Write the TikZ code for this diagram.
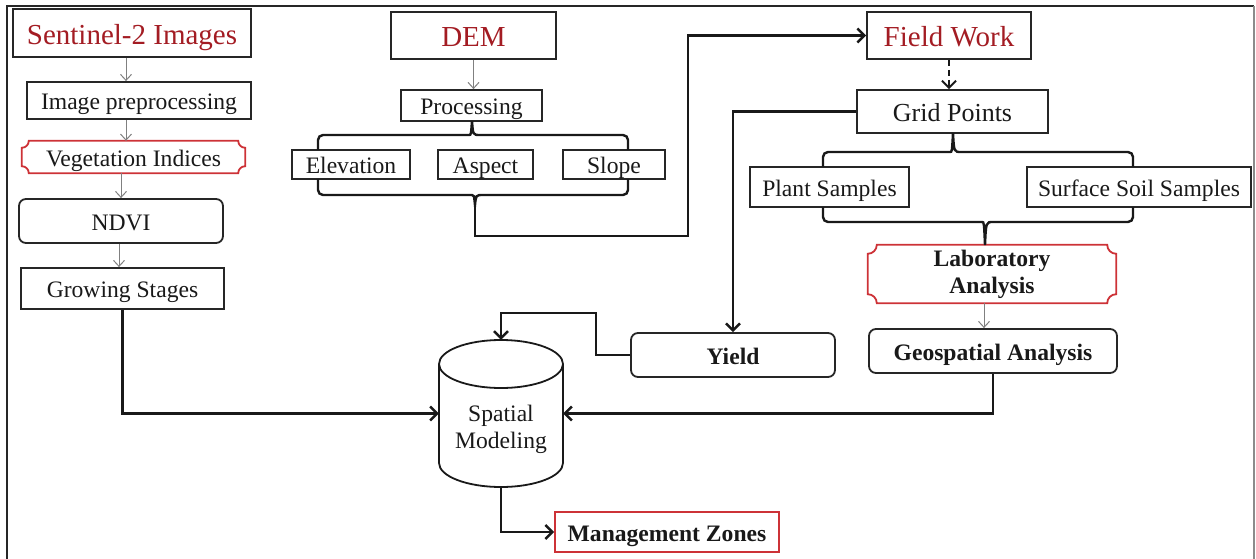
\documentclass[tikz,border=0pt]{standalone}
\usepackage{fontspec}
\setmainfont{Liberation Serif}
\usetikzlibrary{arrows.meta, calc}
\definecolor{titlered}{RGB}{163,28,35}
\definecolor{framered}{RGB}{205,50,55}
\newcommand\fsreg{\fontsize{23.6}{27}\selectfont}
\newcommand\fsbig{\fontsize{29}{32}\selectfont}
\newcommand\fsgrid{\fontsize{26}{29}\selectfont}
% frame with concave corners round a node
\newcommand\notchframe[2]{%
  \draw[notchline] ([xshift=#2]#1.north west) -- ([xshift=-#2]#1.north east)
    arc[start angle=180, end angle=270, radius=#2] -- ([yshift=#2]#1.south east)
    arc[start angle=90, end angle=180, radius=#2] -- ([xshift=#2]#1.south west)
    arc[start angle=0, end angle=90, radius=#2] -- ([yshift=-#2]#1.north west)
    arc[start angle=270, end angle=360, radius=#2] -- cycle;}
% bracket: ends x, tip x, end y, flat y, tip y
\newcommand\bracketline[6]{%
  \draw[bracket] (#1,#4) [rounded corners=5pt] -- (#1,#5) -- ({#3-8},#5) [sharp corners]
    .. controls ({#3-1},#5) .. (#3,#6) .. controls ({#3+1},#5) .. ({#3+8},#5)
    [rounded corners=5pt] -- (#2,#5) -- (#2,#4);}

\tikzset{
  box/.style={draw=black!85, line width=1.8pt, inner sep=2pt, font=\fsreg, text=black!90,
    text height=18.5pt, text depth=0pt},
  titlebox/.style={box, font=\fsbig, text=titlered, text height=23pt},
  roundbox/.style={box, rounded corners=7pt},
  notchbox/.style={inner sep=2pt, font=\fsreg, text=black!90},
  notchline/.style={draw=framered, line width=1.8pt},
  link/.style={line width=2.4pt, draw=black!90, -{Straight Barb[length=7pt,width=14pt]}},
  greylink/.style={line width=1pt, draw=black!50, -{Straight Barb[length=6pt,width=11pt]}},
  bracket/.style={line width=2.4pt, draw=black!90},
}

\begin{document}
\begin{tikzpicture}[x=1pt, y=-1pt]
  \useasboundingbox (0,0) rectangle (1256,559);

  % outer frame
  \draw[line width=2pt, black!85] (7,559) -- (7,6) -- (1254,6);
  \draw[line width=1.2pt, black!45] (1254,6) -- (1254,559);

  % Sentinel-2 column
  \node[titlebox, minimum width=238pt, minimum height=48pt] (s2) at (132,33) {Sentinel-2 Images};
  \node[box, minimum width=224pt, minimum height=37pt] (imgpre) at (139,100.5) {Image preprocessing};
  \node[notchbox, text height=18.5pt, text depth=0pt, minimum width=223pt, minimum height=32pt] (vegidx) at (133.5,157) {Vegetation Indices};
  \notchframe{vegidx}{7pt}
  \node[roundbox, minimum width=204pt, minimum height=44pt] (ndvi) at (121,221) {NDVI};
  \node[box, minimum width=203pt, minimum height=41pt] (grow) at (122.5,288.5) {Growing Stages};

  \draw[greylink] ([xshift=-6pt]s2.south) -- ([xshift=-13pt]imgpre.north);
  \draw[greylink] ([xshift=-13pt]imgpre.south) -- ([xshift=-7.5pt]vegidx.north);
  \draw[greylink] ([xshift=-12.5pt]vegidx.south) -- (ndvi.north);
  \draw[greylink] ([xshift=-2pt]ndvi.south) -- ([xshift=-3.5pt]grow.north);

  % DEM column
  \node[titlebox, minimum width=165pt, minimum height=47pt] (dem) at (473.5,35.5) {DEM};
  \node[box, minimum width=141pt, minimum height=31pt] (proc) at (471.5,105.5) {Processing};
  \node[box, minimum width=118pt, minimum height=29pt] (elev) at (351,164.5) {Elevation};
  \node[box, minimum width=95pt, minimum height=29pt] (aspect) at (485.5,164.5) {Aspect};
  \node[box, minimum width=102pt, minimum height=29pt] (slope) at (614,164.5) {Slope};

  \draw[greylink] (dem.south) -- (dem.south |- proc.north);
  \bracketline{318}{628}{472}{150}{135}{121}
  \bracketline{318}{628}{475}{179}{195}{205}

  % field work column
  \node[titlebox, minimum width=164pt, minimum height=47pt] (field) at (949,35.5) {Field Work};
  \node[box, font=\fsgrid, text height=20pt, minimum width=191pt, minimum height=43pt] (grid) at (952.5,111.5) {Grid Points};
  \node[box, minimum width=159pt, minimum height=40pt] (plant) at (829.5,187) {Plant Samples};
  \node[box, minimum width=224pt, minimum height=40pt] (soil) at (1139,187) {Surface Soil Samples};
  \node[notchbox, font=\fsreg\bfseries, align=center, minimum width=248pt, minimum height=58pt] (lab) at (992,274) {Laboratory\\Analysis};
  \notchframe{lab}{9pt}
  \node[roundbox, font=\fsreg\bfseries, minimum width=248pt, minimum height=44pt] (geo) at (993,351) {Geospatial Analysis};
  \node[roundbox, font=\fsreg\bfseries, minimum width=204pt, minimum height=44pt] (yield) at (733,355) {Yield};

  \draw[link, dash pattern=on 6pt off 4pt, line width=2pt] (field.south) -- (field.south |- grid.north);
  \bracketline{823}{1133}{953}{167}{152}{133}
  \bracketline{823}{1133}{985}{207}{222}{245}
  \draw[greylink] ([xshift=-8pt]lab.south) -- ([xshift=-9pt]geo.north);

  % DEM to field work
  \coordinate (demtip) at (475,205);
  \coordinate (demturn) at (688,236);
  \draw[link] (demtip) |- (demturn) |- (field.west);

  % spatial modeling
  \node[minimum width=124pt, minimum height=147pt] (cyl) at (501,413.5) {};
  \draw[line width=1.8pt, black!90] (501,364) ellipse [x radius=62, y radius=24];
  \draw[line width=1.8pt, black!90] (439,364) -- (439,463)
    arc[start angle=180, end angle=0, x radius=62, y radius=24] -- (563,364);
  \node[font=\fsreg, align=center, text=black!90] (cyltext) at (501,429) {Spatial\\Modeling};
  \node[box, draw=framered, font=\fsreg\bfseries, minimum width=224pt, minimum height=40pt] (mgmt) at (667,532) {Management Zones};

  \draw[link] (grid.west) -| (yield.north);
  \draw[link] (yield.west) -- ++(-34,0) |- ([yshift=27pt]cyl.north) -- (cyl.north);
  \draw[link] (grow.south) |- (cyl.west);
  \draw[link] (geo.south) |- (cyl.east);
  \draw[link] (cyl.south) |- (mgmt.west);

\end{tikzpicture}
\end{document}
